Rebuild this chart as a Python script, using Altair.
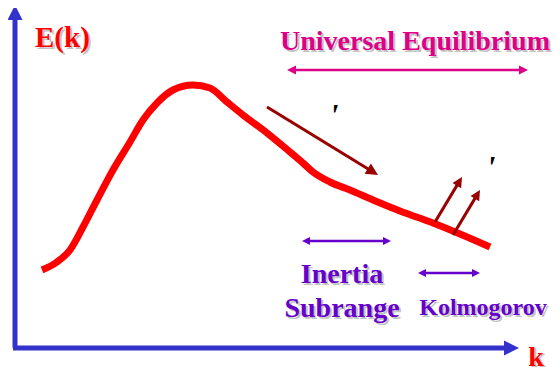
import math
import altair as alt
import pandas as pd

# ---- data (page-pixel coordinates, y grows downward) ----
# Energy spectrum curve E(k)
curve_k = [42, 57, 70, 83, 97, 113, 130, 143, 157, 173, 193, 210, 227, 243, 267, 290, 303, 313, 330, 350, 373, 400, 433, 460, 490]
curve_E = [270, 262, 250, 227, 200, 170, 142, 120, 103, 90, 85, 88, 102, 115, 133, 152, 163, 172, 182, 190, 200, 211, 223, 234, 247]

# Axes (start -> tip)
axes_x1 = [15, 13]
axes_y1 = [348, 348]
axes_x2 = [15, 519]
axes_y2 = [5, 348]

# Double arrows: Universal Equilibrium, Inertia Subrange, Kolmogorov
uni_x = [287, 528]; uni_y = [70, 70]
ine_x = [302, 391]; ine_y = [241, 241]
kol_x = [418, 480]; kol_y = [273, 273]

# Single dark-red arrows (start -> tip)
red_x1 = [267, 435, 453]
red_y1 = [107, 222, 235]
red_x2 = [378, 462, 480]
red_y2 = [175, 177, 190]

# Labels
lab_ek = ("E(k)", 35, 47)
lab_k = ("k", 536, 366)
lab_uni = ("Universal Equilibrium", 415, 50)
lab_ine = [("Inertia", 342, 283), ("Subrange", 342, 317)]
lab_kol = ("Kolmogorov", 483, 315)
primes = [("'", 334, 126), ("'", 491, 178)]

W, H = 544, 365
xs = alt.Scale(domain=[8, 8 + W], nice=False, zero=False)
ys = alt.Scale(domain=[8, 8 + H], nice=False, zero=False, reverse=True)
X = lambda f: alt.X(f, type="quantitative", scale=xs, axis=None)
Y = lambda f: alt.Y(f, type="quantitative", scale=ys, axis=None)
X2 = lambda f: alt.X2(f)
Y2 = lambda f: alt.Y2(f)

HEAD = "M0,0 L0.5,1 L-0.5,1 Z"


def arrow(x1, y1, x2, y2, color, width, hlen, double=False):
    rules, heads = [], []
    for a, b, c, d in zip(x1, y1, x2, y2):
        L = math.hypot(c - a, d - b)
        ux, uy = (c - a) / L, (d - b) / L
        sh = 0.6 * hlen
        sa = sh if double else 0
        rules.append(dict(x=a + ux * sa, y=b + uy * sa, x2=c - ux * sh, y2=d - uy * sh))
        ang = math.degrees(math.atan2(ux, -uy)) % 360
        heads.append(dict(x=c, y=d, angle=ang))
        if double:
            heads.append(dict(x=a, y=b, angle=(ang + 180) % 360))
    r = alt.Chart(pd.DataFrame(rules)).mark_rule(color=color, strokeWidth=width, strokeCap="butt").encode(
        x=X("x"), y=Y("y"), x2=X2("x2"), y2=Y2("y2"))
    h = alt.Chart(pd.DataFrame(heads)).mark_point(
        shape=HEAD, filled=True, color=color, opacity=1, size=4 * hlen * hlen, strokeWidth=0).encode(
        x=X("x"), y=Y("y"), angle=alt.Angle("angle:Q", scale=None))
    return [r, h]


def label(items, color, size, align="center", shadow=True, italic=False, sdy=2):
    df = pd.DataFrame(items, columns=["t", "x", "y"])
    kw = dict(font="Liberation Serif", fontWeight="bold", fontSize=size, align=align, baseline="alphabetic")
    if italic:
        kw["fontStyle"] = "italic"
    out = []
    if shadow:
        out.append(alt.Chart(df).mark_text(color="#c4c4c4", dx=2, dy=sdy, **kw).encode(
            x=X("x"), y=Y("y"), text="t:N"))
    out.append(alt.Chart(df).mark_text(color=color, **kw).encode(x=X("x"), y=Y("y"), text="t:N"))
    return out


BLUE = "#3333CC"
RED = "#FF0000"
MAG = "#DD0088"
PUR = "#6600CC"
DRED = "#990000"

layers = []
layers += arrow(axes_x1, axes_y1, axes_x2, axes_y2, BLUE, 5, 15)
curve = alt.Chart(pd.DataFrame({"k": curve_k, "E": curve_E})).mark_line(
    color=RED, strokeWidth=7, interpolate="monotone").encode(x=X("k"), y=Y("E"), order="k:Q")
layers.append(curve)
layers += arrow(uni_x[:1], uni_y[:1], uni_x[1:], uni_y[1:], MAG, 2.5, 9, double=True)
layers += arrow(ine_x[:1], ine_y[:1], ine_x[1:], ine_y[1:], PUR, 2.5, 8, double=True)
layers += arrow(kol_x[:1], kol_y[:1], kol_x[1:], kol_y[1:], PUR, 2.5, 8, double=True)
layers += arrow(red_x1[:1], red_y1[:1], red_x2[:1], red_y2[:1], DRED, 3, 12)
layers += arrow(red_x1[1:], red_y1[1:], red_x2[1:], red_y2[1:], DRED, 3, 10)
layers += label([lab_ek], RED, 29, align="left")
layers += label([lab_k], RED, 28, sdy=1)
layers += label([lab_uni], MAG, 28)
layers += label(lab_ine, PUR, 28)
layers += label([lab_kol], PUR, 24)
layers += label(primes, "#000000", 32, shadow=False, italic=True)

chart = alt.layer(*layers).properties(
    width=W, height=H, padding=0, autosize=alt.AutoSizeParams(type="none"), background="white"
).configure_view(stroke=None)

chart.save("out.html", embed_options={"renderer": "svg", "actions": False})
